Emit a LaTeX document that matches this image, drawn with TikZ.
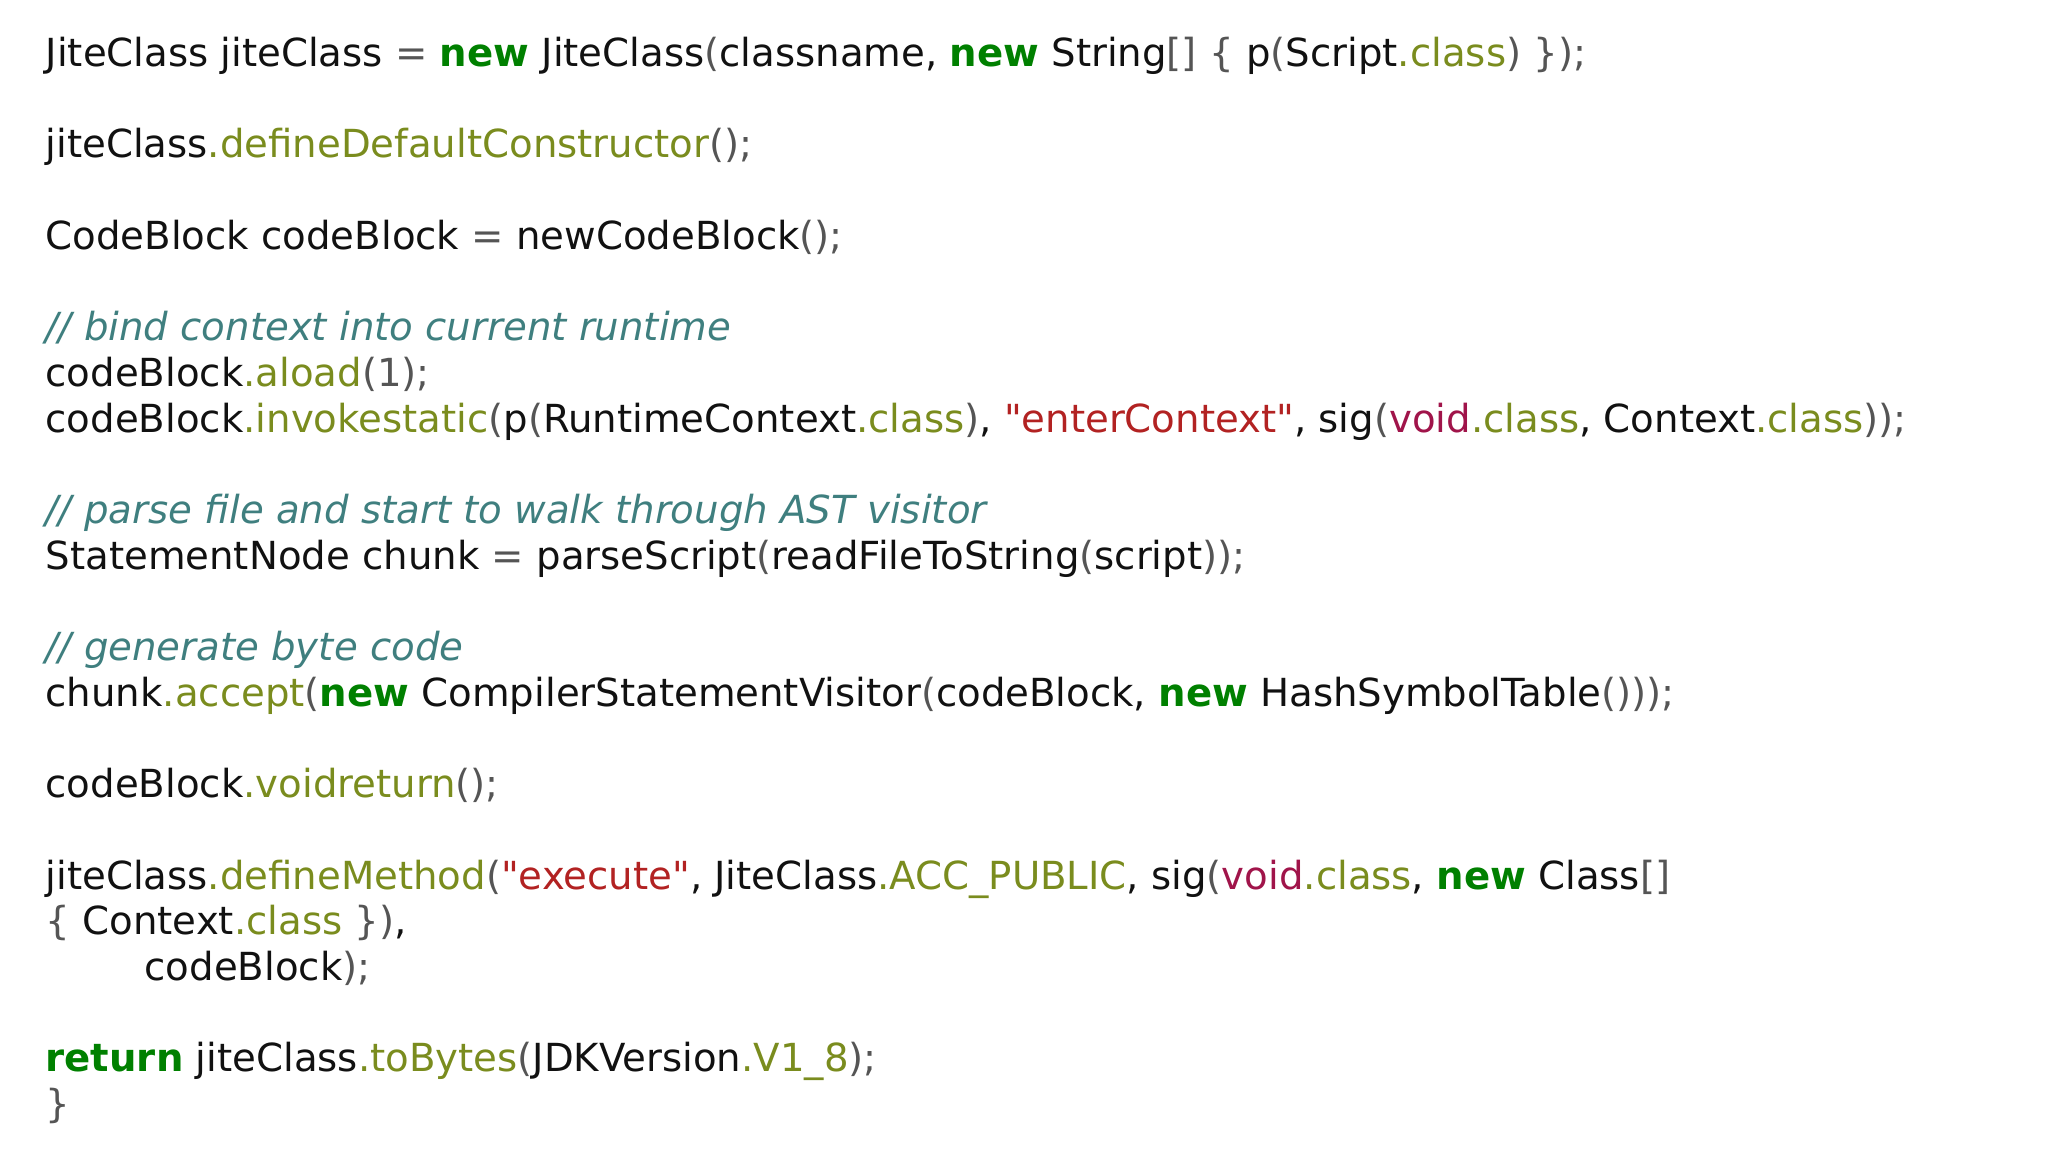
\documentclass[tikz,border=0pt]{standalone}
\usepackage{fontspec}
\setmainfont{DejaVu Sans}
\newfontfamily\qfont{DejaVu Sans}
\definecolor{tx}{HTML}{111111}
\definecolor{kwc}{HTML}{008000}
\definecolor{mtc}{HTML}{7A8C1E}
\definecolor{stc}{HTML}{B22222}
\definecolor{vdc}{HTML}{A0144A}
\definecolor{cmc}{HTML}{3F7F7F}
\definecolor{puc}{HTML}{555555}
\newcommand{\cKW}[1]{\textcolor{kwc}{\bfseries #1}}
\newcommand{\cMT}[1]{\textcolor{mtc}{#1}}
\newcommand{\cSTR}[1]{\textcolor{stc}{{\qfont\symbol{34}}#1{\qfont\symbol{34}}}}
\newcommand{\cVD}[1]{\textcolor{vdc}{#1}}
\newcommand{\cCM}[1]{\textcolor{cmc}{\itshape #1}}
\newcommand{\cP}[1]{\textcolor{puc}{#1}}
\begin{document}
\begin{tikzpicture}[x=1cm,y=1cm,
  ln/.style={anchor=base west,inner sep=0pt,font=\fontsize{11}{14}\selectfont,text=tx}]
\useasboundingbox (0,0) rectangle (20.48,-11.5);
\def\L{0.45}
\def\R#1{-0.665-0.457*#1}
\node[ln] (l0) at (\L,{\R{0}}) {JiteClass jiteClass \cP{=} \cKW{new} JiteClass\cP{(}classname, \cKW{new} String\cP{[] \{} p\cP{(}Script\cMT{.class}\cP{) \});}};
\node[ln] (l2) at (\L,{\R{2}}) {jiteClass\cMT{.defineDefaultConstructor}\cP{();}};
\node[ln] (l4) at (\L,{\R{4}}) {CodeBlock codeBlock \cP{=} newCodeBlock\cP{();}};
\node[ln] (l6) at (\L,{\R{6}}) {\cCM{// bind context into current runtime}};
\node[ln] (l7) at (\L,{\R{7}}) {codeBlock\cMT{.aload}\cP{(1);}};
\node[ln] (l8) at (\L,{\R{8}}) {codeBlock\cMT{.invokestatic}\cP{(}p\cP{(}RuntimeContext\cMT{.class}\cP{)}, \cSTR{enterContext}, sig\cP{(}\cVD{void}\cMT{.class}, Context\cMT{.class}\cP{));}};
\node[ln] (l10) at (\L,{\R{10}}) {\cCM{// parse file and start to walk through AST visitor}};
\node[ln] (l11) at (\L,{\R{11}}) {StatementNode chunk \cP{=} parseScript\cP{(}readFileToString\cP{(}script\cP{));}};
\node[ln] (l13) at (\L,{\R{13}}) {\cCM{// generate byte code}};
\node[ln] (l14) at (\L,{\R{14}}) {chunk\cMT{.accept}\cP{(}\cKW{new} CompilerStatementVisitor\cP{(}codeBlock, \cKW{new} HashSymbolTable\cP{()));}};
\node[ln] (l16) at (\L,{\R{16}}) {codeBlock\cMT{.voidreturn}\cP{();}};
\node[ln] (l18) at (\L,{\R{18}}) {jiteClass\cMT{.defineMethod}\cP{(}\cSTR{execute}, JiteClass\cMT{.ACC\_PUBLIC}, sig\cP{(}\cVD{void}\cMT{.class}, \cKW{new} Class\cP{[]}};
\node[ln] (l19) at (\L,{\R{19}}) {\cP{\{} Context\cMT{.class} \cP{\})},};
\node[ln] (l20) at (1.44,{\R{20}}) {codeBlock\cP{);}};
\node[ln] (l22) at (\L,{\R{22}}) {\cKW{return} jiteClass\cMT{.toBytes}\cP{(}JDKVersion\cMT{.V1\_8}\cP{);}};
\node[ln] (l23) at (\L,{\R{23}}) {\cP{\}}};
\end{tikzpicture}
\end{document}
